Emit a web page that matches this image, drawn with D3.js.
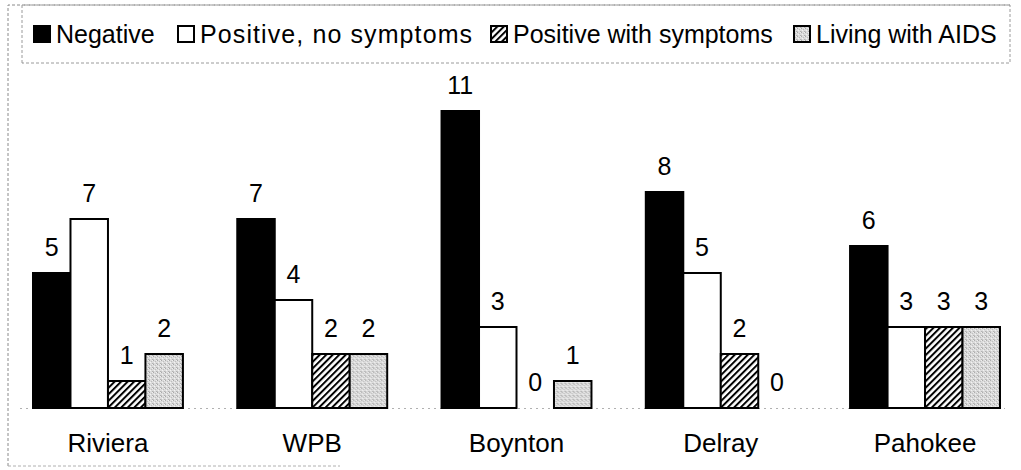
<!DOCTYPE html>
<html>
<head>
<meta charset="utf-8">
<script src="https://cdn.jsdelivr.net/npm/d3@7/dist/d3.min.js"></script>
<style>
  html, body { margin: 0; padding: 0; background: #fff; }
  svg { display: block; }
  text { font-family: "Liberation Sans", Arial, sans-serif; fill: #000; }
</style>
</head>
<body>
<svg id="chart" width="1021" height="470"></svg>
<script>
// Test results by town
const categories = ["Riviera", "WPB", "Boynton", "Delray", "Pahokee"];
const seriesNames = ["Negative", "Positive, no symptoms", "Positive with symptoms", "Living with AIDS"];
const negative        = [5, 7, 11, 8, 6];
const positiveNoSympt = [7, 4, 3, 5, 3];
const positiveSympt   = [1, 2, 0, 2, 3];
const livingWithAids  = [2, 2, 1, 0, 3];
const seriesValues = [negative, positiveNoSympt, positiveSympt, livingWithAids];

const svg = d3.select("#chart");
const defs = svg.append("defs");

// Diagonal hatch fill
const hatch = defs.append("pattern")
  .attr("id", "hatch").attr("patternUnits", "userSpaceOnUse")
  .attr("width", 4.6).attr("height", 4.6)
  .attr("patternTransform", "rotate(45)");
hatch.append("rect").attr("width", 4.6).attr("height", 4.6).attr("fill", "#fff");
hatch.append("line").attr("x1", 1).attr("y1", 0).attr("x2", 1).attr("y2", 4.6)
  .attr("stroke", "#000").attr("stroke-width", 2);

// Light stippled gray fill
const stip = defs.append("pattern")
  .attr("id", "stipple").attr("patternUnits", "userSpaceOnUse")
  .attr("width", 4).attr("height", 4);
stip.append("rect").attr("width", 4).attr("height", 4).attr("fill", "#dcdcdc");
[[0,0,"#a8a8a8"],[2,1,"#bdbdbd"],[1,2,"#f2f2f2"],[3,3,"#b0b0b0"],[3,0,"#efefef"],[0,3,"#c4c4c4"]]
  .forEach(([px, py, c]) => stip.append("rect")
    .attr("x", px).attr("y", py).attr("width", 1).attr("height", 1).attr("fill", c));

const fills = ["#000", "#fff", "url(#hatch)", "url(#stipple)"];

// Scales
const x0 = d3.scaleBand().domain(categories).range([33, 1000])
  .paddingInner(0.266).paddingOuter(0);
const x1 = d3.scaleBand().domain(seriesNames).range([0, x0.bandwidth()]).padding(0);
const y = d3.scaleLinear().domain([0, 12]).range([408, 84]);

// Outer frame (faint dotted)
const frame = svg.append("g").attr("fill", "none").attr("stroke", "#8a8a8a")
  .attr("stroke-width", 1).attr("stroke-dasharray", "3,2");
frame.append("path").attr("d", "M8,466 V5 H1010");
frame.append("path").attr("d", "M8,466 H340").attr("stroke", "#b0b0b0");

// Legend box
svg.append("path").attr("d", "M22,63 V5 H1010 V63 Z")
  .attr("fill", "none").attr("stroke", "#9a9a9a").attr("stroke-width", 1)
  .attr("stroke-dasharray", "3,2");

// Baseline, faint dotted
svg.append("line").attr("x1", 20).attr("x2", 1005)
  .attr("y1", y(0) + 0.5).attr("y2", y(0) + 0.5)
  .attr("stroke", "#b0b0b0").attr("stroke-width", 1).attr("stroke-dasharray", "2,4");

// Bars
const rows = categories.map((c, i) => ({
  cat: c,
  items: seriesNames.map((s, k) => ({ s, k, v: seriesValues[k][i] }))
}));

const groups = svg.append("g").selectAll("g.grp").data(rows).join("g")
  .attr("class", "grp")
  .attr("transform", d => `translate(${x0(d.cat)},0)`);

groups.selectAll("rect").data(d => d.items.filter(e => e.v > 0)).join("rect")
  .attr("x", e => x1(e.s))
  .attr("y", e => y(e.v))
  .attr("width", x1.bandwidth())
  .attr("height", e => y(0) - y(e.v))
  .attr("fill", e => fills[e.k])
  .attr("stroke", "#000")
  .attr("stroke-width", 2);

// Value labels
groups.selectAll("text.val").data(d => d.items).join("text")
  .attr("class", "val")
  .attr("x", e => x1(e.s) + x1.bandwidth() / 2)
  .attr("y", e => y(e.v) - 17)
  .attr("text-anchor", "middle")
  .attr("font-size", 25)
  .text(e => e.v);

// Category axis labels
const xAxis = d3.axisBottom(x0).tickSize(0).tickPadding(0);
const ax = svg.append("g").attr("transform", `translate(0,${y(0)})`).call(xAxis);
ax.select(".domain").remove();
ax.selectAll(".tick text")
  .attr("font-size", 26)
  .attr("font-family", "'Liberation Sans', Arial, sans-serif")
  .attr("fill", "#000")
  .attr("dy", 0)
  .attr("y", 44);

// Legend
const legendX = [33, 177, 490, 793];
const legendSpacing = [0, 1.1, 0, 0];
const leg = svg.append("g").selectAll("g").data(seriesNames).join("g")
  .attr("transform", (d, i) => `translate(${legendX[i]},0)`);
leg.append("rect")
  .attr("x", 1).attr("y", 26).attr("width", 16).attr("height", 16)
  .attr("fill", (d, i) => fills[i])
  .attr("stroke", "#000").attr("stroke-width", 2);
leg.append("text")
  .attr("x", 23).attr("y", 43)
  .attr("font-size", 25)
  .attr("letter-spacing", (d, i) => legendSpacing[i])
  .text(d => d);
</script>
</body>
</html>
